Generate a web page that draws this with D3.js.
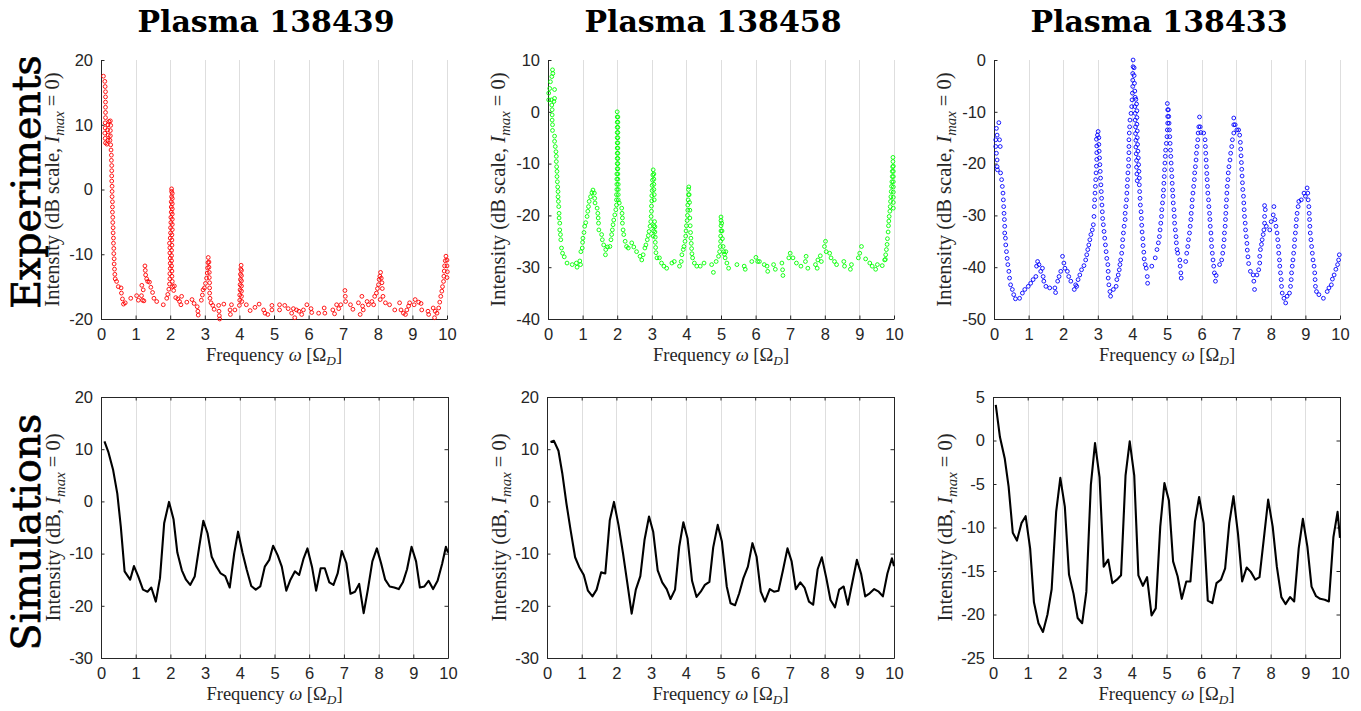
<!DOCTYPE html>
<html>
<head>
<meta charset="utf-8">
<script src="https://cdn.jsdelivr.net/npm/d3@7"></script>
<style>
  body { margin: 0; background: #fff; }
  svg { display: block; }
  .tick text { font-family: "Liberation Sans", Arial, sans-serif; font-size: 16.5px; fill: #262626; }
</style>
</head>
<body>
<svg id="chart" width="1361" height="711"></svg>
<script>
// ---- data ----
var plasmaTitles = ["Plasma 138439", "Plasma 138458", "Plasma 138433"];
var rowTitles = ["Experiments", "Simulations"];
var freqTicks = [0, 1, 2, 3, 4, 5, 6, 7, 8, 9, 10];
var expYTicks = [
  [-20, -10, 0, 10, 20],
  [-40, -30, -20, -10, 0, 10],
  [-50, -40, -30, -20, -10, 0]
];
var simYTicks = [
  [-30, -20, -10, 0, 10, 20],
  [-30, -20, -10, 0, 10, 20],
  [-25, -20, -15, -10, -5, 0, 5]
];
var expColors = ["#ff0000", "#00ff00", "#0000ff"];

// experiments, plasma 138439 (red circles) [omega, dB]
var exp138439 = [
  [0.07,17.5],[0.11,16.7],[0.12,15.9],[0.13,15.1],[0.13,14.3],[0.13,13.5],[0.13,12.7],[0.13,11.9],[0.13,11.1],[0.12,10.3],
  [0.12,9.5],[0.11,8.7],[0.12,7.9],[0.13,7.2],[0.17,7.0],[0.2,7.6],[0.21,8.4],[0.19,9.2],[0.2,10.0],[0.23,10.5],
  [0.27,10.6],[0.28,9.9],[0.27,9.1],[0.27,8.3],[0.26,7.6],[0.28,6.9],[0.29,6.1],[0.3,5.3],[0.3,4.5],[0.31,3.7],
  [0.31,2.9],[0.31,2.1],[0.31,1.3],[0.32,0.5],[0.32,-0.3],[0.32,-1.1],[0.33,-1.9],[0.33,-2.7],[0.33,-3.5],[0.34,-4.3],
  [0.34,-5.1],[0.35,-5.9],[0.35,-6.7],[0.36,-7.5],[0.36,-8.3],[0.37,-9.1],[0.37,-9.9],[0.38,-10.7],[0.38,-11.5],[0.39,-12.3],
  [0.4,-13.1],[0.41,-13.8],[0.45,-14.2],[0.5,-15.0],[0.58,-15.2],[0.59,-16.0],[0.62,-16.9],[0.65,-17.7],[0.7,-17.5],[0.86,-16.8],
  [1.03,-16.4],[1.08,-17.1],[1.17,-16.4],[1.2,-17.1],[1.24,-17.2],[1.18,-14.8],[1.22,-15.5],[1.27,-11.8],[1.28,-12.5],[1.29,-13.2],
  [1.32,-13.8],[1.35,-14.2],[1.4,-14.3],[1.44,-15.1],[1.49,-15.9],[1.53,-16.8],[1.61,-17.3],[1.8,-17.8],[1.9,-16.8],[1.93,-16.2],
  [1.96,-15.4],[1.98,-14.6],[1.99,-13.8],[1.99,-13.0],[2.0,-12.2],[2.0,-11.4],[2.0,-10.6],[1.99,-9.8],[1.99,-9.0],[1.98,-8.3],
  [2.0,-7.5],[2.01,-6.7],[2.01,-5.9],[2.02,-5.1],[2.02,-4.3],[2.03,-3.5],[2.03,-2.7],[2.03,-1.9],[2.04,-1.1],[2.04,-0.3],
  [2.04,0.1],[2.06,-0.6],[2.06,-1.4],[2.06,-2.2],[2.06,-3.0],[2.06,-3.8],[2.06,-4.6],[2.06,-5.4],[2.06,-6.2],[2.05,-7.0],
  [2.05,-7.8],[2.05,-8.6],[2.04,-9.4],[2.04,-10.2],[2.04,-11.0],[2.04,-11.8],[2.05,-12.6],[2.05,-13.4],[2.06,-14.2],[2.07,-15.0],
  [2.1,-15.6],[2.12,-14.9],[2.16,-16.7],[2.22,-16.9],[2.27,-17.3],[2.31,-17.8],[2.33,-16.5],[2.48,-17.4],[2.63,-17.0],[2.69,-17.6],
  [2.78,-18.1],[2.8,-18.8],[2.81,-19.4],[2.9,-17.1],[2.93,-16.3],[2.95,-15.5],[2.99,-15.2],[3.02,-14.5],[3.05,-13.7],[3.07,-12.9],
  [3.08,-12.1],[3.09,-11.3],[3.1,-10.5],[3.12,-11.2],[3.12,-12.0],[3.13,-12.8],[3.13,-13.6],[3.14,-14.4],[3.14,-15.2],[3.14,-16.0],
  [3.15,-16.8],[3.18,-17.5],[3.23,-17.9],[3.27,-18.5],[3.4,-17.9],[3.41,-18.8],[3.42,-19.5],[3.43,-20.0],[3.55,-17.7],[3.73,-18.6],
  [3.77,-17.8],[3.74,-19.3],[3.87,-18.6],[4.0,-17.9],[4.01,-17.1],[4.01,-16.3],[4.02,-15.5],[4.02,-14.7],[4.03,-13.9],[4.03,-13.1],
  [4.04,-12.3],[4.05,-11.7],[4.06,-12.5],[4.06,-13.3],[4.06,-14.1],[4.06,-14.9],[4.06,-15.7],[4.06,-16.5],[4.07,-17.3],[4.2,-17.8],
  [4.31,-18.7],[4.45,-18.2],[4.57,-17.7],[4.7,-18.6],[4.74,-19.1],[4.82,-19.3],[4.94,-18.6],[4.94,-17.9],[5.16,-17.8],[5.16,-18.6],
  [5.31,-17.9],[5.41,-18.4],[5.51,-19.1],[5.56,-18.4],[5.6,-19.8],[5.65,-18.6],[5.72,-18.8],[5.8,-19.3],[5.85,-18.6],[5.95,-17.8],
  [6.07,-18.4],[6.09,-19.0],[6.29,-19.1],[6.45,-18.3],[6.47,-19.1],[6.7,-18.6],[6.75,-19.2],[6.81,-17.8],[6.87,-18.4],[6.93,-17.8],
  [7.05,-15.6],[7.06,-16.5],[7.07,-17.3],[7.21,-17.8],[7.28,-18.5],[7.44,-17.5],[7.49,-19.3],[7.54,-16.5],[7.56,-18.0],[7.58,-18.6],
  [7.69,-17.3],[7.73,-17.8],[7.83,-17.3],[7.88,-17.8],[7.91,-16.5],[7.96,-16.0],[7.99,-15.3],[8.02,-14.7],[8.04,-13.9],[8.06,-13.4],
  [8.08,-12.8],[8.1,-13.7],[8.12,-14.4],[8.13,-15.3],[8.15,-16.5],[8.07,-17.0],[8.22,-17.5],[8.34,-17.8],[8.49,-18.6],[8.63,-17.5],
  [8.67,-18.6],[8.74,-19.1],[8.8,-19.3],[8.84,-18.6],[8.89,-18.0],[8.92,-17.5],[9.05,-17.8],[9.08,-17.0],[9.18,-17.4],[9.25,-17.6],
  [9.27,-18.6],[9.45,-18.8],[9.47,-19.3],[9.6,-18.3],[9.64,-19.8],[9.66,-18.8],[9.71,-19.1],[9.76,-18.3],[9.79,-17.4],[9.82,-16.5],
  [9.85,-15.7],[9.87,-15.0],[9.9,-14.2],[9.91,-13.4],[9.92,-12.6],[9.93,-11.8],[9.95,-11.0],[9.97,-10.3],[10.0,-10.9],[10.0,-11.8],
  [10.01,-12.7],[10.0,-13.6]
];

// experiments, plasma 138458 (green circles)
var exp138458 = [
  [0.02,3.6],[0.02,2.3],[0.05,4.5],[0.07,5.8],[0.11,6.8],[0.13,8.1],[0.14,7.4],[0.19,4.3],[0.19,2.6],[0.17,2.0],
  [0.1,2.3],[0.11,1.3],[0.12,0.4],[0.12,-0.6],[0.12,-1.6],[0.13,-2.5],[0.13,-3.6],[0.19,-4.7],[0.19,-5.7],[0.21,-6.7],
  [0.23,-7.7],[0.24,-8.6],[0.24,-9.6],[0.25,-10.6],[0.26,-11.5],[0.26,-12.5],[0.27,-13.5],[0.28,-14.5],[0.29,-15.4],[0.29,-16.4],
  [0.3,-17.3],[0.31,-18.3],[0.32,-19.6],[0.32,-20.5],[0.34,-21.5],[0.34,-22.8],[0.36,-23.7],[0.37,-24.7],[0.39,-26.3],[0.42,-27.3],
  [0.47,-28.0],[0.55,-29.2],[0.7,-29.5],[0.82,-29.2],[0.84,-30.0],[0.92,-28.8],[0.94,-29.5],[0.95,-27.0],[0.99,-26.3],[1.0,-25.2],
  [1.01,-24.4],[1.04,-23.3],[1.06,-22.1],[1.09,-21.4],[1.13,-20.2],[1.15,-19.2],[1.17,-18.3],[1.19,-17.3],[1.23,-16.4],[1.27,-15.6],
  [1.3,-15.1],[1.34,-15.7],[1.35,-16.7],[1.36,-17.6],[1.42,-18.6],[1.44,-19.6],[1.45,-20.5],[1.46,-21.5],[1.47,-22.8],[1.55,-23.7],
  [1.57,-24.7],[1.61,-25.7],[1.66,-27.6],[1.67,-26.6],[1.72,-26.1],[1.79,-26.0],[1.82,-24.7],[1.84,-23.7],[1.86,-22.8],[1.88,-21.8],
  [1.9,-20.9],[1.93,-19.9],[1.96,-18.9],[1.98,-18.0],[1.98,-17.0],[1.98,-16.0],[1.99,-15.0],[1.99,-14.0],[1.99,-13.0],[1.99,-12.0],
  [2.0,-11.0],[2.0,-10.0],[2.0,-9.0],[2.0,-8.0],[2.0,-7.0],[2.0,-6.0],[2.0,-5.0],[2.0,-4.0],[2.0,-3.0],[2.0,-2.0],
  [2.0,-1.0],[2.0,0.0],[2.02,-1.0],[2.02,-2.0],[2.02,-3.0],[2.02,-4.0],[2.02,-5.0],[2.02,-6.0],[2.02,-7.0],[2.02,-8.0],
  [2.02,-9.0],[2.02,-10.0],[2.02,-11.0],[2.02,-12.0],[2.02,-13.0],[2.03,-14.0],[2.03,-15.0],[2.03,-16.0],[2.03,-17.0],[2.06,-17.6],
  [2.13,-18.6],[2.14,-19.6],[2.15,-20.5],[2.15,-21.5],[2.17,-22.8],[2.19,-23.7],[2.23,-25.0],[2.27,-26.0],[2.32,-26.3],[2.42,-25.3],
  [2.48,-26.1],[2.56,-27.0],[2.66,-27.9],[2.71,-28.6],[2.75,-27.6],[2.8,-26.3],[2.83,-25.7],[2.87,-24.7],[2.9,-23.9],[2.92,-23.1],
  [2.95,-22.1],[2.97,-21.2],[2.98,-20.2],[2.99,-19.2],[2.99,-18.2],[3.0,-17.2],[3.0,-16.2],[3.01,-15.2],[3.01,-14.2],[3.02,-13.2],
  [3.03,-12.2],[3.04,-11.2],[3.06,-12.0],[3.06,-13.0],[3.06,-14.0],[3.06,-15.0],[3.07,-16.0],[3.07,-17.0],[3.08,-21.2],[3.09,-22.2],
  [3.09,-23.2],[3.1,-24.2],[3.1,-25.2],[3.11,-26.2],[3.12,-27.2],[3.15,-28.2],[3.06,-22.0],[3.05,-23.0],[3.04,-24.0],[3.22,-28.2],
  [3.28,-29.2],[3.35,-29.8],[3.43,-30.2],[3.58,-29.2],[3.65,-28.9],[3.8,-29.8],[3.85,-28.9],[3.87,-27.6],[3.91,-26.6],[3.93,-26.0],
  [3.96,-25.0],[3.98,-24.0],[3.99,-23.0],[4.0,-22.0],[4.02,-21.0],[4.03,-20.0],[4.04,-19.0],[4.04,-18.0],[4.05,-17.0],[4.06,-16.0],
  [4.06,-15.0],[4.07,-14.5],[4.08,-16.0],[4.09,-17.5],[4.1,-19.0],[4.1,-20.5],[4.11,-22.0],[4.12,-23.3],[4.13,-24.4],[4.14,-25.4],
  [4.15,-26.4],[4.16,-27.4],[4.18,-28.2],[4.23,-29.2],[4.3,-29.8],[4.4,-29.8],[4.51,-29.2],[4.73,-29.5],[4.78,-31.0],[4.86,-28.9],
  [4.93,-27.9],[4.96,-27.0],[4.98,-26.0],[4.99,-25.0],[4.99,-24.0],[5.0,-23.0],[5.0,-22.0],[5.0,-21.0],[5.0,-20.3],[5.02,-21.5],
  [5.03,-23.0],[5.04,-24.5],[5.06,-26.0],[5.08,-27.0],[5.1,-27.5],[5.12,-28.2],[5.14,-27.0],[5.17,-29.2],[5.22,-30.2],[5.46,-29.5],
  [5.67,-29.8],[5.7,-30.4],[5.89,-28.9],[6.01,-28.1],[6.06,-28.9],[6.11,-28.9],[6.25,-29.5],[6.33,-29.8],[6.35,-30.8],[6.52,-29.5],
  [6.57,-30.4],[6.76,-29.2],[6.78,-30.5],[6.79,-31.6],[6.96,-28.2],[7.0,-27.3],[7.08,-28.2],[7.18,-29.2],[7.31,-29.8],[7.44,-28.9],
  [7.46,-27.9],[7.51,-30.2],[7.73,-29.5],[7.78,-30.2],[7.8,-28.6],[7.87,-27.8],[7.9,-28.9],[7.99,-26.0],[8.02,-25.0],[8.04,-27.0],
  [8.14,-27.3],[8.18,-28.2],[8.28,-28.9],[8.34,-29.5],[8.55,-28.9],[8.57,-29.8],[8.74,-30.4],[8.77,-29.5],[8.97,-28.2],[9.01,-27.3],
  [9.06,-26.0],[9.18,-28.4],[9.3,-29.2],[9.37,-29.8],[9.47,-30.4],[9.52,-29.5],[9.66,-29.7],[9.73,-28.6],[9.75,-28.5],[9.76,-27.6],
  [9.78,-26.6],[9.8,-25.6],[9.81,-24.5],[9.83,-23.2],[9.84,-22.0],[9.85,-21.1],[9.86,-20.2],[9.88,-19.2],[9.89,-18.3],[9.9,-17.3],
  [9.91,-16.4],[9.92,-15.4],[9.93,-14.4],[9.94,-13.5],[9.95,-12.5],[9.95,-11.5],[9.96,-10.6],[9.97,-9.6],[9.97,-8.8],[9.98,-10.5],
  [9.98,-11.5],[9.98,-12.5],[9.98,-13.5],[9.98,-14.5],[9.98,-15.5],[9.98,-16.5],[9.98,-17.5],[9.98,-18.6]
];

// experiments, plasma 138433 (blue circles)
var exp138433 = [
  [0.05,-15.4],[0.05,-16.7],[0.07,-18.0],[0.09,-19.3],[0.09,-20.6],[0.1,-21.2],[0.07,-13.2],[0.09,-14.5],[0.14,-12.1],[0.16,-15.4],
  [0.18,-16.7],[0.19,-21.8],[0.22,-23.1],[0.24,-24.4],[0.26,-25.7],[0.27,-27.0],[0.28,-28.3],[0.29,-29.6],[0.3,-30.8],[0.31,-32.1],
  [0.31,-33.4],[0.33,-34.4],[0.34,-35.7],[0.36,-37.0],[0.38,-38.3],[0.4,-39.5],[0.43,-40.8],[0.45,-42.1],[0.48,-43.4],[0.53,-44.3],
  [0.57,-45.3],[0.62,-46.1],[0.74,-46.0],[0.82,-45.0],[0.89,-44.3],[0.99,-43.7],[1.06,-43.1],[1.13,-42.4],[1.21,-41.8],[1.23,-39.8],
  [1.26,-38.9],[1.3,-39.5],[1.35,-40.8],[1.4,-40.2],[1.42,-41.8],[1.44,-42.7],[1.5,-43.7],[1.61,-44.0],[1.76,-44.0],[1.78,-44.9],
  [1.84,-42.7],[1.88,-41.8],[1.93,-40.8],[1.98,-37.9],[2.02,-39.2],[2.05,-40.2],[2.12,-40.8],[2.16,-41.8],[2.22,-42.7],[2.32,-44.3],
  [2.36,-43.4],[2.39,-43.7],[2.43,-42.4],[2.48,-41.5],[2.53,-40.5],[2.6,-39.7],[2.65,-38.6],[2.68,-37.6],[2.71,-36.6],[2.74,-35.7],
  [2.77,-34.7],[2.8,-33.7],[2.84,-32.8],[2.87,-31.8],[2.89,-30.2],[2.9,-28.3],[2.91,-27.0],[2.92,-25.7],[2.93,-24.4],[2.94,-23.1],
  [2.95,-21.8],[2.96,-20.5],[2.97,-19.2],[2.97,-17.9],[2.97,-16.6],[2.96,-15.3],[2.99,-14.5],[3.01,-13.8],[3.03,-15.0],[3.03,-16.3],
  [3.04,-17.6],[3.05,-18.9],[3.06,-20.2],[3.07,-21.5],[3.08,-22.8],[3.09,-24.1],[3.1,-25.4],[3.11,-26.7],[3.12,-28.0],[3.13,-29.3],
  [3.14,-30.6],[3.16,-31.8],[3.18,-33.1],[3.2,-34.4],[3.22,-35.7],[3.24,-37.0],[3.26,-38.3],[3.29,-39.5],[3.3,-40.8],[3.3,-42.1],
  [3.32,-43.4],[3.35,-44.7],[3.37,-45.6],[3.45,-44.3],[3.53,-43.7],[3.55,-42.4],[3.59,-41.5],[3.62,-40.5],[3.64,-39.5],[3.66,-38.6],
  [3.69,-37.3],[3.71,-36.0],[3.72,-34.7],[3.74,-33.4],[3.76,-32.1],[3.79,-30.8],[3.79,-29.6],[3.81,-28.3],[3.83,-27.0],[3.84,-25.7],
  [3.85,-24.4],[3.86,-23.1],[3.87,-21.8],[3.89,-20.5],[3.89,-19.2],[3.9,-17.9],[3.9,-16.7],[3.9,-15.4],[3.91,-14.1],[3.92,-12.9],
  [3.93,-11.6],[3.96,-10.3],[3.98,-9.0],[3.99,-7.7],[4.0,-6.4],[4.01,-5.1],[4.01,-3.9],[4.01,-2.6],[4.02,-1.3],[4.02,0.0],
  [4.05,-1.5],[4.05,-3.0],[4.06,-4.5],[4.07,-6.0],[4.08,-7.2],[4.1,-7.6],[4.12,-8.5],[4.13,-9.8],[4.13,-11.1],[4.13,-12.4],
  [4.14,-13.7],[4.14,-15.0],[4.15,-16.3],[4.16,-17.6],[4.17,-18.9],[4.18,-20.2],[4.19,-21.5],[4.2,-22.8],[4.2,-24.1],[4.21,-25.4],
  [4.22,-26.7],[4.23,-28.0],[4.25,-29.3],[4.26,-30.6],[4.27,-31.9],[4.28,-33.2],[4.3,-34.5],[4.31,-35.8],[4.33,-37.1],[4.34,-38.4],
  [4.37,-39.5],[4.4,-40.2],[4.43,-41.8],[4.44,-43.1],[4.07,-9.0],[4.08,-10.3],[4.08,-11.6],[4.09,-12.9],[4.09,-14.2],[4.1,-15.5],
  [4.1,-16.8],[4.11,-18.1],[4.12,-19.4],[4.12,-20.7],[4.13,-22.0],[4.14,-23.3],[4.56,-39.8],[4.66,-38.2],[4.71,-36.6],[4.75,-35.3],
  [4.78,-34.1],[4.8,-32.8],[4.82,-31.5],[4.84,-30.2],[4.85,-28.9],[4.87,-27.6],[4.89,-26.3],[4.9,-25.1],[4.91,-23.8],[4.92,-22.5],
  [4.93,-21.2],[4.94,-19.9],[4.95,-18.6],[4.96,-17.4],[4.98,-16.1],[5.0,-14.8],[5.01,-13.5],[5.02,-12.2],[5.02,-10.9],[5.02,-9.6],
  [5.01,-8.4],[5.04,-9.6],[5.05,-10.9],[5.06,-12.2],[5.07,-13.5],[5.08,-14.8],[5.09,-16.1],[5.1,-17.4],[5.11,-18.6],[5.12,-19.9],
  [5.13,-21.2],[5.14,-22.5],[5.15,-23.8],[5.16,-25.1],[5.17,-26.3],[5.18,-27.6],[5.2,-28.9],[5.21,-30.2],[5.22,-31.5],[5.24,-32.8],
  [5.26,-34.1],[5.27,-35.3],[5.29,-36.6],[5.31,-37.3],[5.37,-38.6],[5.38,-39.8],[5.4,-41.1],[5.41,-42.1],[5.54,-38.9],[5.57,-37.3],
  [5.6,-36.0],[5.62,-34.7],[5.65,-33.4],[5.67,-32.1],[5.69,-30.8],[5.7,-29.6],[5.72,-28.3],[5.73,-27.0],[5.75,-25.7],[5.77,-24.4],
  [5.79,-23.1],[5.8,-21.8],[5.82,-20.6],[5.84,-19.3],[5.85,-18.0],[5.87,-16.7],[5.89,-15.4],[5.9,-14.1],[5.92,-12.9],[5.94,-11.0],
  [5.96,-12.9],[5.98,-14.0],[6.06,-14.1],[6.1,-15.4],[6.11,-16.7],[6.12,-18.0],[6.13,-19.3],[6.14,-20.6],[6.15,-21.9],[6.16,-23.1],
  [6.17,-24.4],[6.18,-25.7],[6.2,-27.0],[6.21,-28.3],[6.23,-29.6],[6.24,-30.8],[6.25,-32.1],[6.27,-33.4],[6.28,-34.7],[6.29,-36.0],
  [6.31,-37.3],[6.33,-38.6],[6.35,-39.8],[6.37,-41.1],[6.4,-42.7],[6.42,-41.6],[6.52,-39.5],[6.58,-38.6],[6.61,-37.3],[6.63,-36.0],
  [6.65,-34.7],[6.66,-33.4],[6.68,-32.1],[6.69,-30.8],[6.7,-29.6],[6.71,-28.3],[6.72,-27.0],[6.73,-25.7],[6.74,-24.4],[6.76,-23.1],
  [6.77,-21.8],[6.79,-20.6],[6.82,-19.3],[6.84,-18.0],[6.87,-16.7],[6.89,-15.4],[6.93,-14.1],[6.93,-12.5],[6.93,-11.2],[6.97,-12.5],
  [7.02,-13.5],[7.07,-13.5],[7.1,-14.5],[7.12,-15.9],[7.13,-17.2],[7.14,-18.5],[7.15,-19.8],[7.16,-21.1],[7.17,-22.4],[7.18,-23.7],
  [7.19,-25.0],[7.21,-26.3],[7.22,-27.6],[7.23,-28.9],[7.24,-30.2],[7.26,-31.5],[7.27,-32.8],[7.29,-34.1],[7.31,-35.4],[7.32,-36.7],
  [7.34,-38.0],[7.36,-39.3],[7.41,-40.8],[7.49,-41.5],[7.51,-42.7],[7.53,-44.3],[7.6,-41.5],[7.65,-40.5],[7.68,-39.2],[7.68,-37.9],
  [7.7,-36.6],[7.73,-35.6],[7.75,-34.7],[7.78,-33.7],[7.8,-32.8],[7.82,-31.5],[7.82,-30.2],[7.84,-28.9],[7.82,-28.1],[7.87,-32.1],
  [7.97,-32.8],[8.01,-31.2],[8.07,-29.9],[8.09,-28.3],[8.12,-30.8],[8.15,-32.1],[8.18,-33.4],[8.2,-34.7],[8.22,-36.0],[8.23,-37.3],
  [8.25,-38.6],[8.26,-39.8],[8.28,-41.1],[8.3,-42.4],[8.31,-43.7],[8.33,-45.0],[8.38,-46.0],[8.43,-46.9],[8.47,-45.6],[8.54,-45.0],
  [8.57,-43.7],[8.59,-42.4],[8.6,-41.1],[8.62,-39.8],[8.64,-38.6],[8.66,-37.3],[8.68,-36.0],[8.69,-34.7],[8.71,-33.4],[8.73,-32.1],
  [8.74,-30.8],[8.76,-29.6],[8.79,-28.3],[8.81,-27.3],[8.88,-27.0],[8.96,-25.7],[9.0,-26.3],[9.05,-24.7],[9.07,-25.7],[9.08,-27.0],
  [9.1,-28.3],[9.11,-29.6],[9.12,-30.8],[9.13,-32.1],[9.14,-33.4],[9.16,-34.7],[9.18,-36.0],[9.2,-37.3],[9.22,-38.6],[9.25,-39.8],
  [9.27,-41.1],[9.28,-42.4],[9.29,-43.7],[9.32,-44.7],[9.39,-45.3],[9.52,-46.0],[9.63,-44.7],[9.68,-44.0],[9.75,-43.4],[9.78,-42.3],
  [9.83,-41.5],[9.88,-40.4],[9.93,-39.5],[9.96,-38.6],[9.98,-37.6]
];

// simulations (black lines)
var sim138439 = [
  [0.1,11.5],[0.21,9.5],[0.35,6.0],[0.47,1.5],[0.57,-4.8],[0.68,-13.4],[0.84,-15.0],[0.95,-12.4],[1.07,-14.3],[1.21,-16.9],
  [1.34,-17.3],[1.45,-16.5],[1.58,-19.2],[1.7,-14.7],[1.82,-4.2],[1.96,-0.1],[2.09,-3.4],[2.2,-9.8],[2.33,-13.2],[2.45,-15.0],
  [2.57,-16.0],[2.7,-14.4],[2.83,-8.7],[2.95,-3.7],[3.07,-6.1],[3.19,-10.6],[3.32,-12.4],[3.45,-13.8],[3.58,-14.3],[3.71,-16.5],
  [3.84,-9.9],[3.95,-5.8],[4.08,-9.9],[4.2,-13.1],[4.33,-16.2],[4.46,-16.9],[4.59,-16.3],[4.72,-12.5],[4.85,-11.2],[4.96,-8.5],
  [5.09,-10.3],[5.21,-12.5],[5.34,-17.1],[5.46,-15.0],[5.59,-13.4],[5.71,-14.1],[5.84,-10.9],[5.95,-9.0],[6.08,-12.5],[6.2,-17.1],
  [6.33,-12.8],[6.45,-12.8],[6.58,-15.5],[6.7,-16.0],[6.82,-13.8],[6.94,-9.5],[7.07,-11.8],[7.19,-17.7],[7.32,-17.3],[7.44,-15.8],
  [7.57,-21.4],[7.69,-16.9],[7.82,-11.5],[7.95,-9.0],[8.07,-11.8],[8.19,-15.0],[8.32,-16.3],[8.45,-16.5],[8.58,-16.8],[8.7,-15.5],
  [8.82,-13.0],[8.95,-8.7],[9.08,-11.5],[9.19,-16.5],[9.32,-16.3],[9.44,-15.2],[9.57,-16.8],[9.7,-15.2],[9.83,-12.0],[9.94,-8.7],
  [10.0,-9.8]
];
var sim138458 = [
  [0.1,11.4],[0.2,11.6],[0.33,9.7],[0.44,5.4],[0.56,-0.4],[0.68,-5.5],[0.81,-10.7],[0.93,-12.6],[1.06,-14.1],[1.18,-17.1],
  [1.31,-18.2],[1.43,-16.9],[1.56,-13.6],[1.68,-13.8],[1.81,-3.6],[1.93,-0.1],[2.06,-4.5],[2.19,-9.9],[2.31,-15.4],[2.44,-21.5],
  [2.56,-16.9],[2.69,-14.3],[2.81,-7.4],[2.94,-2.9],[3.06,-5.8],[3.19,-13.2],[3.32,-15.5],[3.45,-16.8],[3.56,-18.7],[3.69,-16.9],
  [3.81,-8.7],[3.93,-4.0],[4.05,-7.1],[4.18,-15.2],[4.31,-18.3],[4.43,-17.3],[4.55,-16.0],[4.68,-15.4],[4.79,-8.8],[4.92,-4.5],
  [5.04,-7.7],[5.18,-16.3],[5.29,-19.5],[5.42,-19.9],[5.54,-17.6],[5.66,-14.7],[5.79,-12.5],[5.92,-8.0],[6.04,-10.6],[6.16,-17.3],
  [6.28,-19.2],[6.42,-16.8],[6.54,-17.3],[6.67,-17.1],[6.8,-13.2],[6.93,-9.0],[7.05,-11.5],[7.17,-16.8],[7.3,-15.5],[7.42,-16.5],
  [7.55,-19.2],[7.67,-19.8],[7.8,-13.0],[7.92,-10.7],[8.05,-14.7],[8.17,-18.9],[8.3,-20.3],[8.42,-16.9],[8.55,-16.3],[8.67,-19.8],
  [8.8,-15.5],[8.93,-11.2],[9.05,-13.8],[9.17,-18.2],[9.3,-17.6],[9.43,-16.8],[9.56,-17.3],[9.68,-18.2],[9.81,-13.8],[9.94,-10.9],
  [10.0,-12.4]
];
var sim138433 = [
  [0.08,4.1],[0.2,0.4],[0.34,-2.1],[0.45,-5.3],[0.57,-10.6],[0.69,-11.5],[0.82,-9.5],[0.94,-8.7],[1.07,-12.4],[1.18,-18.6],
  [1.31,-21.0],[1.44,-22.0],[1.57,-20.0],[1.69,-17.1],[1.82,-8.2],[1.94,-4.3],[2.07,-7.6],[2.19,-15.4],[2.32,-17.6],[2.44,-20.4],
  [2.57,-21.0],[2.69,-17.4],[2.82,-5.1],[2.94,-0.3],[3.07,-4.2],[3.19,-14.5],[3.32,-13.7],[3.44,-16.4],[3.57,-16.0],[3.69,-15.5],
  [3.82,-4.0],[3.94,-0.1],[4.07,-4.0],[4.19,-15.5],[4.32,-16.7],[4.44,-15.7],[4.57,-20.1],[4.69,-19.3],[4.82,-9.9],[4.94,-4.9],
  [5.07,-6.9],[5.19,-13.9],[5.32,-15.6],[5.44,-18.2],[5.57,-16.2],[5.69,-16.2],[5.82,-9.3],[5.94,-6.5],[6.07,-9.5],[6.19,-18.4],
  [6.32,-18.7],[6.44,-16.4],[6.57,-16.0],[6.69,-14.7],[6.81,-9.5],[6.93,-6.4],[7.06,-10.7],[7.18,-16.2],[7.31,-14.6],[7.43,-15.1],
  [7.56,-16.0],[7.68,-15.7],[7.81,-11.1],[7.93,-6.8],[8.06,-9.9],[8.18,-14.5],[8.31,-18.0],[8.43,-18.8],[8.56,-18.0],[8.68,-18.5],
  [8.81,-12.4],[8.93,-9.0],[9.06,-12.2],[9.18,-16.8],[9.31,-17.9],[9.43,-18.2],[9.56,-18.3],[9.68,-18.5],[9.81,-11.1],[9.93,-8.2],
  [10.0,-11.2]
];

var Figure = (function() {

    var svg = d3.select("#chart");
    var ink = "#262626";
    var serif = "'Liberation Serif', 'Times New Roman', serif";

    // writes text made of plain / italic / subscript pieces
    function mathText(text, parts, size) {
        var shifted = 0;
        parts.forEach(function(p) {
            var t = text.append("tspan").text(p[0]);
            var dy = 0;
            if (p[1].indexOf("i") >= 0) t.attr("font-style", "italic");
            if (p[1].indexOf("s") >= 0) {
                t.attr("font-size", size * 0.72);
                dy = size * 0.22 - shifted;
                shifted = size * 0.22;
            } else {
                dy = -shifted;
                shifted = 0;
            }
            if (dy) t.attr("dy", dy);
        });
    }

    function plain(d) { return String(d); }

    function panel(cfg) {
        var g = svg.append("g").attr("transform", "translate(" + cfg.left + "," + cfg.top + ")");
        var x = d3.scaleLinear().domain([0, 10]).range([0, cfg.w]);
        var y = d3.scaleLinear().domain(d3.extent(cfg.yTicks)).range([cfg.h, 0]);

        g.append("g").selectAll("line")
          .data(freqTicks.slice(1))
          .enter().append("line")
          .attr("x1", function(d) { return Math.round(x(d)) + 0.5; })
          .attr("x2", function(d) { return Math.round(x(d)) + 0.5; })
          .attr("y1", 0)
          .attr("y2", cfg.h)
          .attr("stroke", "#dedede")
          .attr("stroke-width", 1);

        if (cfg.box) {
            g.append("g").attr("color", ink)
              .call(d3.axisTop(x).tickValues(freqTicks).tickSize(-3.5).tickSizeOuter(0).tickFormat(""));
            g.append("g").attr("color", ink)
              .attr("transform", "translate(" + cfg.w + ",0)")
              .call(d3.axisRight(y).tickValues(cfg.yTicks).tickSize(-3.5).tickSizeOuter(0).tickFormat(""));
        }

        g.append("g").attr("color", ink)
          .attr("transform", "translate(0," + cfg.h + ")")
          .call(d3.axisBottom(x).tickValues(freqTicks).tickSize(-3.5).tickSizeOuter(0).tickPadding(9).tickFormat(plain));
        g.append("g").attr("color", ink)
          .call(d3.axisLeft(y).tickValues(cfg.yTicks).tickSize(-3.5).tickSizeOuter(0).tickPadding(8).tickFormat(plain));

        if (cfg.points) {
            g.append("g").selectAll("circle")
              .data(cfg.points)
              .enter().append("circle")
              .attr("cx", function(d) { return x(d[0]); })
              .attr("cy", function(d) { return y(d[1]); })
              .attr("r", 1.9)
              .attr("fill", "none")
              .attr("stroke", cfg.color)
              .attr("stroke-width", 0.9);
        }
        if (cfg.line) {
            g.append("path")
              .datum(cfg.line)
              .attr("d", d3.line().x(function(d) { return x(d[0]); }).y(function(d) { return y(d[1]); }))
              .attr("fill", "none")
              .attr("stroke", "#000")
              .attr("stroke-width", 2.1)
              .attr("stroke-linejoin", "round");
        }

        var xl = g.append("text")
          .attr("x", cfg.w / 2)
          .attr("y", cfg.h + 42)
          .attr("text-anchor", "middle")
          .attr("font-family", serif)
          .attr("font-size", 18.5)
          .attr("fill", ink);
        mathText(xl, [["Frequency ", ""], ["\u03c9", "i"], [" [\u03a9", ""], ["D", "is"], ["]", ""]], 18.5);

        var yl = g.append("text")
          .attr("transform", "translate(" + cfg.ylabelX + "," + (cfg.h / 2) + ") rotate(-90)")
          .attr("text-anchor", "middle")
          .attr("font-family", serif)
          .attr("font-size", 20.5)
          .attr("fill", ink);
        mathText(yl, [[cfg.ylabel, ""], ["I", "i"], ["max", "is"], [" = 0)", ""]], 20.5);
    }

    function init() {
        var tops = [101, 548, 994];
        var bottoms = [101, 547, 993];
        var exps = [exp138439, exp138458, exp138433];
        var sims = [sim138439, sim138458, sim138433];

        for (var i = 0; i < 3; i++) {
            panel({
                left: tops[i], top: 60, w: 346, h: 259,
                yTicks: expYTicks[i], points: exps[i], color: expColors[i],
                ylabel: "Intensity (dB scale, ", ylabelX: i === 0 ? -42 : -43
            });
            panel({
                left: bottoms[i], top: 397, w: 347, h: 261, box: true,
                yTicks: simYTicks[i], line: sims[i],
                ylabel: "Intensity (dB, ", ylabelX: -41
            });
            svg.append("text")
              .attr("x", tops[i] + 173 - 8)
              .attr("y", 32)
              .attr("text-anchor", "middle")
              .attr("font-family", "'DejaVu Serif', serif")
              .attr("font-weight", "bold")
              .attr("font-size", 30)
              .attr("fill", "#000")
              .text(plasmaTitles[i]);
        }

        [182, 532].forEach(function(cy, k) {
            svg.append("text")
              .attr("transform", "translate(40," + cy + ") rotate(-90)")
              .attr("text-anchor", "middle")
              .attr("font-family", "'DejaVu Serif', serif")
              .attr("font-size", 39.5)
              .attr("fill", "#000")
              .attr("stroke", "#000")
              .attr("stroke-width", 0.7)
              .text(rowTitles[k]);
        });
    }

    return {
        "init": init
    };

})();

Figure.init();
</script>
</body>
</html>
